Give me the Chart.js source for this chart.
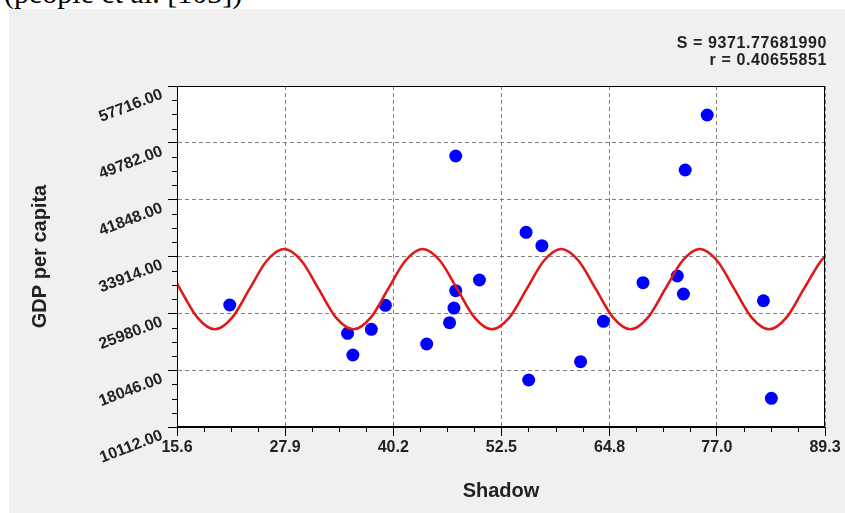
<!DOCTYPE html>
<html>
<head>
<meta charset="utf-8">
<script src="https://cdn.jsdelivr.net/npm/chart.js@4.4.1/dist/chart.umd.min.js"></script>
<style>
  html, body { margin: 0; padding: 0; background: #fff; width: 845px; height: 513px; overflow: hidden; }
  #caption { position: absolute; left: 4px; top: -22px; font: 30px 'Liberation Serif', 'Times New Roman', serif; line-height: 30px; color: #000; white-space: nowrap; }
  #panel { position: absolute; left: 9px; top: 9px; right: 0; bottom: 0; background: #f0f0f0; }
  #wrap { position: absolute; left: 0; top: 0; width: 845px; height: 513px; }
</style>
</head>
<body>
<div id="caption">(people et al. [103])</div>
<div id="panel"></div>
<div id="wrap"><canvas id="c" width="845" height="513"></canvas></div>
<script>
// Observed countries: shadow economy share vs GDP per capita
const shadow = [21.6, 35.0, 35.6, 37.7, 39.3, 44.0, 46.6, 47.1, 47.3, 47.3, 50.0, 55.3,
                57.1, 55.6, 61.5, 64.1, 68.6, 72.5, 73.2, 73.4, 75.9, 82.3, 83.2];
const gdp = [27140, 23190, 20160, 23750, 27100, 21700, 24670, 26720, 29140, 47940, 30630, 37290,
             35420, 16670, 19230, 24870, 30260, 31190, 28680, 45990, 53670, 27740, 14120];

// Fitted sinusoidal model, sampled along the x range
const fitX = [15.6, 15.96, 17.93, 19.90, 21.87, 23.84, 25.81, 27.78, 29.75, 31.72, 33.69,
              35.66, 37.63, 39.60, 41.57, 43.54, 45.51, 47.48, 49.45, 51.42, 53.39, 55.36,
              57.33, 59.30, 61.27, 63.24, 65.21, 67.18, 69.15, 71.12, 73.09, 75.06, 77.03,
              79.00, 80.97, 82.94, 84.91, 86.88, 88.85, 89.3];
const fitY = [30170, 29360, 25390, 23750, 25390, 29360, 33320, 34960, 33320, 29360, 25390,
              23750, 25390, 29360, 33320, 34960, 33320, 29360, 25390, 23750, 25390, 29360,
              33320, 34960, 33320, 29360, 25390, 23750, 25390, 29360, 33320, 34960, 33320,
              29360, 25390, 23750, 25390, 29360, 33320, 33920];

// Axis ticks
const xTicks = [15.6, 27.9, 40.2, 52.5, 64.8, 77.0, 89.3];
const xTickLabels = ['15.6', '27.9', '40.2', '52.5', '64.8', '77.0', '89.3'];
const yTicks = [10112, 18046, 25980, 33914, 41848, 49782, 57716];
const yTickLabels = ['10112.00', '18046.00', '25980.00', '33914.00', '41848.00', '49782.00', '57716.00'];

// Fit statistics
const statLines = ['S = 9371.77681990', 'r = 0.40655851'];

const SANS = "'Liberation Sans', Arial, sans-serif";
const TEXT = '#222';
const MINOR_DIV = 4;
const Y_LABEL_ANGLE = -21 * Math.PI / 180;

const plotDecor = {
  id: 'plotDecor',
  beforeDraw(chart) {
    const { ctx, chartArea: a } = chart;
    ctx.save();
    ctx.fillStyle = '#ffffff';
    ctx.fillRect(a.left, a.top, a.right - a.left, a.bottom - a.top);
    ctx.restore();
  },
  afterDraw(chart) {
    const { ctx, chartArea: a, scales } = chart;
    const xs = scales.x, ys = scales.y;
    ctx.save();
    // frame
    ctx.strokeStyle = '#000';
    ctx.lineWidth = 1;
    ctx.strokeRect(Math.round(a.left) + 0.5, Math.round(a.top) + 0.5,
                   Math.round(a.right - a.left) - 1, Math.round(a.bottom - a.top) - 1);
    // minor ticks
    ctx.beginPath();
    for (let i = 0; i < xTicks.length - 1; i++) {
      const step = (xTicks[i + 1] - xTicks[i]) / MINOR_DIV;
      for (let j = 1; j < MINOR_DIV; j++) {
        const px = Math.round(xs.getPixelForValue(xTicks[i] + j * step)) + 0.5;
        ctx.moveTo(px, a.bottom);
        ctx.lineTo(px, a.bottom + 5);
      }
    }
    for (let i = 0; i < yTicks.length - 1; i++) {
      const step = (yTicks[i + 1] - yTicks[i]) / MINOR_DIV;
      for (let j = 1; j < MINOR_DIV; j++) {
        const py = Math.round(ys.getPixelForValue(yTicks[i] + j * step)) + 0.5;
        ctx.moveTo(a.left - 5, py);
        ctx.lineTo(a.left, py);
      }
    }
    ctx.stroke();

    // slanted y tick labels hanging below-left of each tick
    ctx.fillStyle = TEXT;
    ctx.font = 'bold 16px ' + SANS;
    ctx.textAlign = 'right';
    ctx.textBaseline = 'middle';
    yTicks.forEach((v, i) => {
      const py = ys.getPixelForValue(v);
      ctx.save();
      ctx.translate(a.left - 15, py + 8);
      ctx.rotate(Y_LABEL_ANGLE);
      ctx.fillText(yTickLabels[i], 0, 0);
      ctx.restore();
    });

    // statistics
    ctx.font = 'bold 16px ' + SANS;
    ctx.letterSpacing = '0.6px';
    ctx.textAlign = 'right';
    ctx.textBaseline = 'alphabetic';
    ctx.fillText(statLines[0], 827, 48);
    ctx.fillText(statLines[1], 827, 65);
    ctx.restore();
  }
};

new Chart(document.getElementById('c'), {
  type: 'scatter',
  data: {
    datasets: [
      {
        type: 'line',
        data: fitX.map((x, i) => ({ x, y: fitY[i] })),
        borderColor: '#e01818',
        borderWidth: 2.6,
        pointRadius: 0,
        cubicInterpolationMode: 'monotone',
        fill: false
      },
      {
        data: shadow.map((x, i) => ({ x, y: gdp[i] })),
        backgroundColor: '#0000ff',
        borderColor: '#0000ff',
        borderWidth: 0,
        pointRadius: 6.5
      }
    ]
  },
  options: {
    responsive: false,
    animation: false,
    devicePixelRatio: 1,
    layout: { padding: { left: 0, top: 86, right: 20, bottom: 0 } },
    plugins: { legend: { display: false }, tooltip: { enabled: false } },
    scales: {
      x: {
        type: 'linear',
        min: 15.6,
        max: 89.3,
        afterBuildTicks: s => { s.ticks = xTicks.map(v => ({ value: v })); },
        afterFit: s => { s.height = 86; },
        ticks: {
          autoSkip: false,
          maxRotation: 0,
          padding: 2,
          color: TEXT,
          font: { family: SANS, size: 16, weight: 'bold' },
          callback: (v, i) => xTickLabels[i]
        },
        grid: { color: '#808080', lineWidth: 1, tickColor: '#000', tickLength: 9 },
        border: { dash: [4, 3], color: '#000' },
        title: {
          display: true,
          text: 'Shadow',
          color: TEXT,
          font: { family: SANS, size: 20, weight: 'bold' },
          padding: { top: 0, bottom: 10 }
        }
      },
      y: {
        type: 'linear',
        min: 10112,
        max: 57716,
        afterBuildTicks: s => { s.ticks = yTicks.map(v => ({ value: v })); },
        afterFit: s => { s.width = 177; },
        ticks: { display: false },
        grid: { color: '#808080', lineWidth: 1, tickColor: '#000', tickLength: 9 },
        border: { dash: [4, 3], color: '#000' },
        title: {
          display: true,
          text: 'GDP per capita',
          color: TEXT,
          font: { family: SANS, size: 20, weight: 'bold' },
          padding: { top: 28, bottom: 0 }
        }
      }
    }
  },
  plugins: [plotDecor]
});
</script>
</body>
</html>
